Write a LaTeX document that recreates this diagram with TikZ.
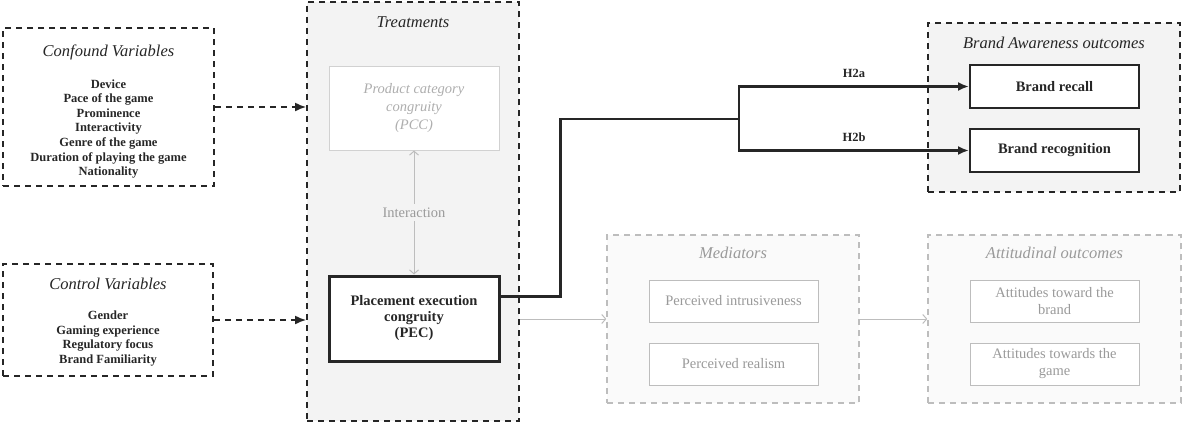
\documentclass[tikz,border=0pt]{standalone}
\usepackage{fontspec}
\setmainfont{Liberation Serif}
\usetikzlibrary{arrows.meta}

\definecolor{boxgray}{HTML}{F3F3F3}
\definecolor{palegray}{HTML}{FAFAFA}
\definecolor{linegray}{HTML}{BDBDBD}
\definecolor{textgray}{HTML}{9A9A9A}
\definecolor{ink}{HTML}{262626}

\begin{document}
\begin{tikzpicture}[x=1pt,y=-1pt,
  darkdash/.style={draw=ink, line width=1.8pt, dash pattern=on 6pt off 5pt},
  lightdash/.style={draw=linegray, line width=1.2pt, dash pattern=on 6pt off 5pt, fill=palegray},
  group/.style={rectangle, inner sep=0pt},
  title/.style={font=\itshape\fontsize{16.5}{19}\selectfont, text=ink},
  varlist/.style={align=center, font=\bfseries\fontsize{12.5}{14.6}\selectfont, text=ink},
  darkbox/.style={draw=ink, line width=2pt, fill=white, minimum width=169pt, minimum height=43pt,
    align=center, text=ink, font=\bfseries\fontsize{14.5}{16}\selectfont},
  lightbox/.style={draw=linegray, line width=1pt, fill=white, minimum width=169pt, minimum height=42pt,
    align=center, text=textgray, font=\fontsize{14.5}{17}\selectfont},
  darkarrow/.style={-{Latex[length=11pt,width=9pt]}},
  thickpath/.style={draw=ink, line width=2.5pt},
  lightarrow/.style={draw=linegray, line width=1pt, -{Straight Barb[length=4pt,width=9pt]}},
  hlabel/.style={above=4pt, font=\bfseries\fontsize{12.5}{14}\selectfont, text=ink}
]

\useasboundingbox (0,0) rectangle (1183,423);

% confound and control variables
\node[group, darkdash, minimum width=211pt, minimum height=158pt] (confound) at (108.5,107) {};
\node[title] (conftitle) at (108.5,52) {Confound Variables};
\node[varlist] (confitems) at (108.5,129) {Device\\Pace of the game\\Prominence\\Interactivity\\Genre of the game\\Duration of playing the game\\Nationality};

\node[group, darkdash, minimum width=210pt, minimum height=112pt] (control) at (108,320) {};
\node[title] (ctrltitle) at (108,284) {Control Variables};
\node[varlist] (ctrlitems) at (108,338.5) {Gender\\Gaming experience\\Regulatory focus\\Brand Familiarity};

% treatments
\node[group, darkdash, fill=boxgray, minimum width=212pt, minimum height=419pt] (treat) at (413,211.5) {};
\node[title] (treattitle) at (413,22) {Treatments};
\node[lightbox, draw=linegray!70, minimum width=170pt, minimum height=84pt, text=textgray!80,
  font=\itshape\fontsize{14.5}{17.7}\selectfont] (pcc) at (414,108) {Product category\\congruity\\(PCC)};
\node[darkbox, line width=3pt, minimum width=170pt, minimum height=85pt] (pec) at (414,318.5) {Placement execution\\congruity\\(PEC)};
\draw[draw=linegray, line width=1pt, {Straight Barb[length=4pt,width=9pt]}-{Straight Barb[length=4pt,width=9pt]}]
  (pcc) -- node[fill=boxgray, text=textgray, font=\fontsize{14.5}{17}\selectfont] (inter) {Interaction} (pec);

% brand awareness outcomes
\node[group, darkdash, fill=boxgray, minimum width=252pt, minimum height=169pt] (aware) at (1054,107.5) {};
\node[title] (awaretitle) at (1054,43) {Brand Awareness outcomes};
\node[darkbox] (recall) at (1054.5,86.5) {Brand recall};
\node[darkbox] (recog) at (1054.5,150.5) {Brand recognition};

% mediators and attitudes
\node[group, lightdash, minimum width=252pt, minimum height=168pt] (med) at (733,319) {};
\node[title, text=textgray] (medtitle) at (733,253) {Mediators};
\node[lightbox] (intrus) at (733.5,301) {Perceived intrusiveness};
\node[lightbox] (realism) at (733.5,364) {Perceived realism};

\node[group, lightdash, minimum width=253pt, minimum height=168pt] (att) at (1054.5,319) {};
\node[title, text=textgray] (atttitle) at (1054.5,253) {Attitudinal outcomes};
\node[lightbox] (attbrand) at (1054.5,301) {Attitudes toward the\\brand};
\node[lightbox] (attgame) at (1054.5,364) {Attitudes towards the\\game};

% connectors
\draw[darkdash, darkarrow] (confound.east) -- (confound.east -| treat.west);
\draw[darkdash, darkarrow] (control.east) -- (control.east -| treat.west);

\coordinate (split) at (739,119);
\draw[thickpath] ([yshift=22pt]pec.east) -- ++(60,0) |- (split);
\draw[thickpath, darkarrow] (split) |- node[hlabel, pos=0.75] (h2a) {H2a} (recall.west);
\draw[thickpath, darkarrow] (split) |- node[hlabel, pos=0.75] (h2b) {H2b} (recog.west);

\draw[lightarrow] (treat.east |- med.west) -- (med.west);
\draw[lightarrow] (med.east) -- (att.west);

\end{tikzpicture}
\end{document}
